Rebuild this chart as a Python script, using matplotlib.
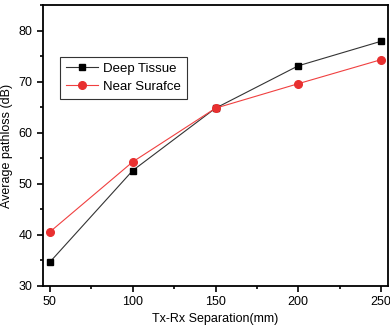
import matplotlib.pyplot as plt
from matplotlib.ticker import MultipleLocator

plt.rcParams['font.family'] = ['Liberation Sans', 'DejaVu Sans']

sep = [50, 100, 150, 200, 250]
deep = [34.7, 52.6, 64.8, 73.1, 77.9]
near = [40.6, 54.3, 64.8, 69.6, 74.3]

fig = plt.figure(figsize=(3.9, 3.28), dpi=100)
ax = fig.add_axes([43/390, 42/328, 345/390, 281/328])

ax.plot(sep, deep, color='#333333', lw=0.8, marker='s', ms=5,
        mfc='black', mec='black', label='Deep Tissue')
ax.plot(sep, near, color='#f04040', lw=0.8, marker='o', ms=5.5,
        mfc='#e83030', mec='#e83030', label='Near Surafce')

ax.set_xlim(45.8, 254.2)
ax.set_ylim(30, 85)
ax.set_xticks(sep)
ax.set_yticks([30, 40, 50, 60, 70, 80])
ax.xaxis.set_minor_locator(MultipleLocator(25))
ax.yaxis.set_minor_locator(MultipleLocator(5))
ax.tick_params(which='both', direction='out', labelsize=9, width=1.2)
ax.tick_params(which='major', length=4)
ax.tick_params(which='minor', length=2.5)
for s in ax.spines.values():
    s.set_linewidth(1.3)

ax.set_xlabel('Tx-Rx Separation(mm)', fontsize=9, labelpad=3)
ax.set_ylabel('Average pathloss (dB)', fontsize=9, labelpad=4)

leg = ax.legend(loc='upper left', bbox_to_anchor=(0.03, 0.84), fontsize=9.5,
                fancybox=False, edgecolor='#333333', framealpha=1,
                handlelength=2.4, borderpad=0.45, labelspacing=0.45,
                handletextpad=0.4)
leg.get_frame().set_linewidth(0.8)

fig.savefig('out.png', dpi=100)
